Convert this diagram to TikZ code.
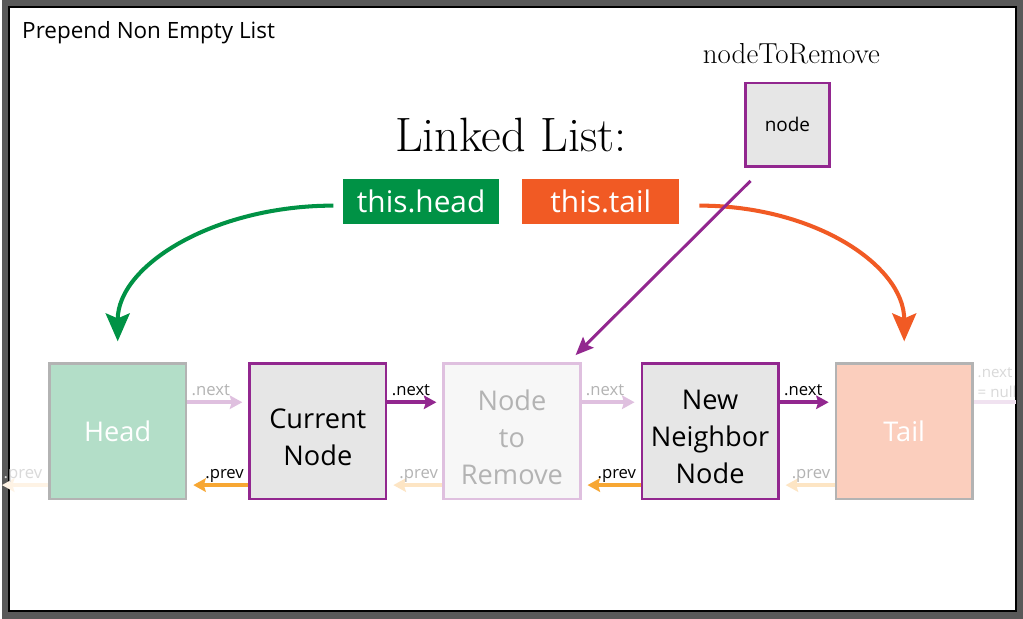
\documentclass[tikz,border=0pt]{standalone}
\usepackage{fontspec}
\setsansfont{Open Sans}
\usetikzlibrary{
  arrows.meta,
  calc
}
\definecolor{purplish}{RGB}{146,39,143}
\definecolor{lilac}{RGB}{223,192,223}
\definecolor{palelilac}{RGB}{240,226,240}
\definecolor{orangish}{RGB}{247,167,51}
\definecolor{peach}{RGB}{253,229,196}
\definecolor{palepeach}{RGB}{254,243,229}
\definecolor{greenish}{RGB}{0,146,69}
\definecolor{mint}{RGB}{179,222,200}
\definecolor{redish}{RGB}{241,90,36}
\definecolor{salmon}{RGB}{251,206,189}
\definecolor{boxgray}{RGB}{230,230,230}
\definecolor{ghostgray}{RGB}{247,247,247}
\definecolor{edgegray}{RGB}{179,179,179}
\definecolor{fadegray}{RGB}{217,217,217}
\definecolor{framegray}{RGB}{89,89,89}

\begin{document}
\begin{tikzpicture}[
  x=0.02cm,
  y=-0.02cm,
  listnode/.style={
    draw=purplish,
    fill=boxgray,
    line width=1.4pt,
    minimum width=2.74cm,
    minimum height=2.72cm,
    inner sep=0pt,
    align=center,
    font=\sffamily\fontsize{15.5}{21}\selectfont
  },
  endnode/.style={
    listnode,
    draw=edgegray,
    text=white
  },
  ghostnode/.style={
    listnode,
    draw=lilac,
    fill=ghostgray
  },
  boxtext/.style={
    align=center,
    inner sep=0pt,
    yshift=-0.12cm,
    font=\sffamily\fontsize{15.5}{21}\selectfont
  },
  pointer/.style={
    minimum width=3.14cm,
    minimum height=0.9cm,
    inner sep=0pt,
    text=white,
    font=\sffamily\fontsize{17}{20}\selectfont
  },
  link/.style={
    line width=2.2pt,
    -{Stealth[length=0.25cm,width=0.27cm,inset=0.04cm]},
    shorten >=0.12cm
  },
  lbl/.style={
    font=\sffamily\fontsize{9.5}{11.5}\selectfont,
    inner sep=0pt
  },
  curve/.style={
    line width=2.3pt,
    -{Stealth[length=0.56cm,width=0.48cm,inset=0.1cm]}
  }
]

% Frame
\fill[framegray] (0,0) rectangle (1023,620);
\filldraw[fill=white, draw=black, line width=0.8pt] (7,7) rectangle (1016,612);

% Titles
\node[anchor=base west, inner sep=0pt, font=\sffamily\fontsize{12.8}{15}\selectfont] (title) at (20,39) {Prepend Non Empty List};
\node[anchor=base, inner sep=0pt, font=\fontsize{27.5}{32}\selectfont] (lltitle) at (510,152) {Linked List:};
\node[anchor=base, inner sep=0pt, font=\fontsize{16.5}{19}\selectfont] (ntrlabel) at (791,64) {nodeToRemove};
\node[listnode, minimum width=1.68cm, minimum height=1.68cm, font=\sffamily\fontsize{10.8}{13}\selectfont] (ntr) at (787,125) {node};

% Pointers
\node[pointer, fill=greenish] (thishead) at (420,202) {this.head};
\node[pointer, fill=redish] (thistail) at (600,202) {this.tail};

% List nodes
\node[endnode, fill=mint] (head) at (116,432) {Head};
\node[listnode, label={[boxtext]center:Current\\Node}] (cur) at (316.5,432) {};
\node[ghostnode, label={[boxtext, text=edgegray]center:Node\\to\\Remove}] (rem) at (511,432) {};
\node[listnode, label={[boxtext]center:New\\Neighbor\\Node}] (nbr) at (709.5,432) {};
\node[endnode, fill=salmon] (tail) at (904,432) {Tail};

% Next links
\foreach \a/\b/\c/\t in {head/cur/lilac/edgegray, cur/rem/purplish/black, rem/nbr/lilac/edgegray, nbr/tail/purplish/black} {
  \draw[link, \c] ($(\a.east)+(0,-29)$) -- node[lbl, at start, anchor=base west, xshift=0.05cm, yshift=0.14cm, text=\t] {.next} ($(\b.west)+(0,-29)$);
}

% Prev links
\foreach \a/\b/\c/\t in {cur/head/orangish/black, rem/cur/peach/edgegray, nbr/rem/orangish/black, tail/nbr/peach/edgegray} {
  \draw[link, \c] ($(\a.west)+(0,54)$) -- node[lbl, at start, anchor=base east, xshift=-0.05cm, yshift=0.14cm, text=\t] {.prev} ($(\b.east)+(0,54)$);
}

% Ends of the list
\coordinate (nullend) at (1016,403);
\coordinate (prevend) at (0,486);
\draw[line width=2.2pt, palelilac] ($(tail.east)+(0,-29)$) -- node[lbl, at start, anchor=south west, align=left, xshift=0.04cm, yshift=0.06cm, text=fadegray, font=\sffamily\fontsize{8.6}{11}\selectfont] {.next\\= null} (nullend);
\draw[link, palepeach, shorten >=0pt] ($(head.west)+(0,54)$) -- node[lbl, at start, anchor=base east, xshift=-0.08cm, yshift=0.14cm, text=fadegray] {.prev} (prevend);

% Curved pointers
\coordinate (headtip) at (116,342);
\coordinate (tailtip) at (904,342);
\draw[curve, greenish] ($(thishead.west)+(-9,4)$) .. controls +(-120,0) and +(0,-76) .. (headtip);
\draw[curve, redish] ($(thistail.east)+(20,4)$) .. controls +(115,0) and +(0,-76) .. (tailtip);

% nodeToRemove pointer
\draw[purplish, line width=1.7pt, -{Stealth[length=0.36cm,width=0.3cm,inset=0.06cm]}] ($(ntr.south)+(-37,13)$) -- ($(rem.north east)+(-6,-7)$);

\end{tikzpicture}
\end{document}
